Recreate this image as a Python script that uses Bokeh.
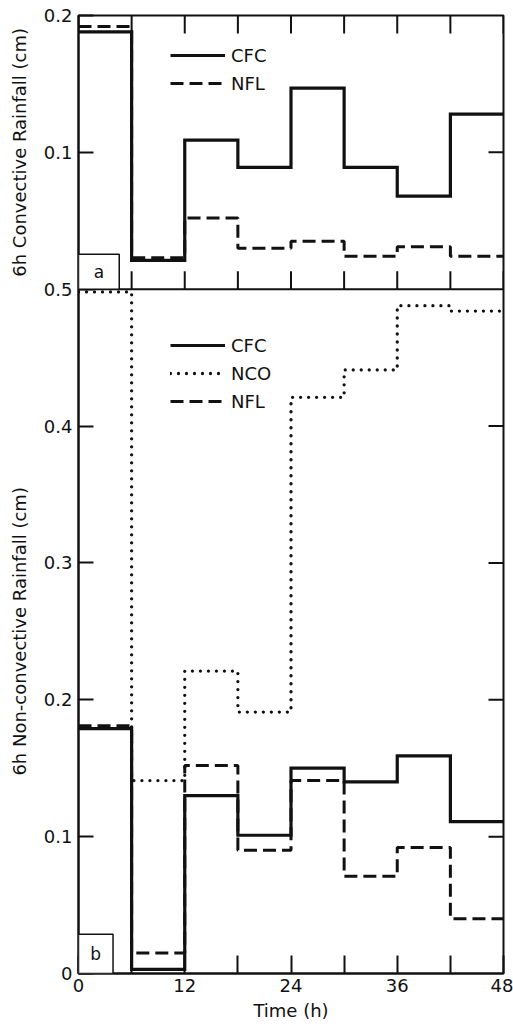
from bokeh.plotting import figure
from bokeh.layouts import row
from bokeh.models import (Range1d, LinearAxis, FixedTicker, Legend, LegendItem,
                          BoxAnnotation, Label, Span)
from bokeh.embed import file_html
from bokeh.resources import INLINE

# ---------------- data (6-hourly rainfall, cm) ----------------
hours = [0, 6, 12, 18, 24, 30, 36, 42, 48]

conv_cfc = [0.188, 0.021, 0.109, 0.089, 0.147, 0.089, 0.068, 0.128]
conv_nfl = [0.192, 0.023, 0.052, 0.030, 0.035, 0.024, 0.031, 0.024]

nonconv_cfc = [0.179, 0.003, 0.130, 0.101, 0.150, 0.140, 0.159, 0.111]
nonconv_nco = [0.498, 0.141, 0.221, 0.191, 0.421, 0.441, 0.488, 0.484]
nonconv_nfl = [0.181, 0.015, 0.152, 0.090, 0.141, 0.071, 0.092, 0.040]

x_major_ticks = [0, 12, 24, 36, 48]
x_minor_ticks = [6, 18, 30, 42]
x_all_ticks = [0, 6, 12, 18, 24, 30, 36, 42, 48]
conv_ticks = [0.1, 0.2]                       # panel a (0 .. 0.2)
nonconv_ticks = [0, 0.1, 0.2, 0.3, 0.4, 0.5]  # panel b (0 .. 0.5)
conv_max = 0.2
nonconv_max = 0.5

FONT = "DejaVu Sans"
INK = "#111111"

TITLE_W = 40      # strip on the left holding the two rotated y titles
TOP, BOTTOM = 15, 51


def stepped(vals):
    return list(vals) + [vals[-1]]


y_main = Range1d(0, nonconv_max + conv_max)       # panel b (bottom)
y_a = Range1d(-nonconv_max, conv_max)             # panel a stacked on top

# panel b uses the main y range, panel a is stacked on top of it (extra range "a")
p = figure(width=513 - TITLE_W, height=1024,
           x_range=Range1d(0, 48), y_range=y_main,
           output_backend="svg", toolbar_location=None,
           x_axis_location=None, y_axis_location=None,
           min_border_left=78 - TITLE_W, min_border_right=10,
           min_border_top=TOP, min_border_bottom=BOTTOM)
p.extra_y_ranges = {"a": y_a}
p.outline_line_color = INK
p.outline_line_width = 2
p.xgrid.visible = False
p.ygrid.visible = False

# ---- left axis: labels for both panels ----
a_positions = [nonconv_max + t for t in conv_ticks]
overrides = {0: "0"}
for pos, tv in zip(a_positions, conv_ticks):
    overrides[pos] = "%.1f" % tv
yax = LinearAxis(ticker=FixedTicker(ticks=nonconv_ticks + a_positions, minor_ticks=[]))
yax.major_tick_in = 15
yax.major_tick_out = 0
yax.minor_tick_in = 0
yax.minor_tick_out = 0
yax.axis_line_width = 2
yax.axis_line_color = INK
yax.major_tick_line_width = 2
yax.major_tick_line_color = INK
yax.major_label_text_font = FONT
yax.major_label_text_font_size = "18px"
yax.major_label_text_color = INK
yax.major_label_standoff = 6
yax.major_label_overrides = overrides
p.add_layout(yax, "left")

# ---- bottom axis ----
xax = LinearAxis(ticker=FixedTicker(ticks=x_major_ticks, minor_ticks=x_minor_ticks))
xax.major_tick_in = 18
xax.major_tick_out = 0
xax.minor_tick_in = 18
xax.minor_tick_out = 0
xax.axis_line_width = 2
xax.axis_line_color = INK
xax.major_tick_line_width = 2
xax.major_tick_line_color = INK
xax.minor_tick_line_width = 2
xax.minor_tick_line_color = INK
xax.major_label_text_font = FONT
xax.major_label_text_font_size = "18px"
xax.major_label_text_color = INK
xax.major_label_standoff = 5
xax.axis_label = "Time (h)"
xax.axis_label_text_font = FONT
xax.axis_label_text_font_size = "18px"
xax.axis_label_text_font_style = "normal"
xax.axis_label_text_color = INK
xax.axis_label_standoff = 5
p.add_layout(xax, "below")

# ---- unlabelled inward ticks (top, panel boundary, right side) ----
n = len(x_all_ticks)
p.ray(x=x_all_ticks, y=[conv_max] * n, y_range_name="a", length=18, length_units="screen",
      angle=-90, angle_units="deg", line_color=INK, line_width=2)
p.ray(x=x_all_ticks, y=[0] * n, y_range_name="a", length=18, length_units="screen",
      angle=90, angle_units="deg", line_color=INK, line_width=2)
p.ray(x=[48] * (len(nonconv_ticks) - 2), y=nonconv_ticks[1:-1], length=15,
      length_units="screen", angle=180, angle_units="deg", line_color=INK, line_width=2)
p.ray(x=[48] * (len(conv_ticks) - 1), y=conv_ticks[:-1], y_range_name="a", length=15,
      length_units="screen", angle=180, angle_units="deg", line_color=INK, line_width=2)

# panel boundary
p.add_layout(Span(location=0, dimension="width", y_range_name="a", line_color=INK,
                  line_width=2))

# ---- panel b: non-convective ----
rb_cfc = p.step(hours, stepped(nonconv_cfc), mode="after", line_color=INK,
                line_width=3.2, line_join="miter")
rb_nco = p.step(hours, stepped(nonconv_nco), mode="after", line_color=INK,
                line_width=3.3, line_dash="0 8", line_cap="round")
rb_nfl = p.step(hours, stepped(nonconv_nfl), mode="after", line_color=INK,
                line_width=3, line_dash="13 6")

# ---- panel a: convective ----
ra_cfc = p.step(hours, stepped(conv_cfc), mode="after", y_range_name="a", line_color=INK,
                line_width=3.2, line_join="miter")
ra_nfl = p.step(hours, stepped(conv_nfl), mode="after", y_range_name="a", line_color=INK,
                line_width=3, line_dash="13 6")


def make_legend(items, loc):
    return Legend(items=items, location=loc, glyph_width=55, glyph_height=24,
                  label_height=24, label_standoff=6, spacing=4, padding=0, margin=0,
                  border_line_alpha=0, background_fill_alpha=0,
                  label_text_font=FONT, label_text_font_size="18px",
                  label_text_color=INK)


p.add_layout(make_legend([LegendItem(label="CFC", renderers=[ra_cfc]),
                          LegendItem(label="NFL", renderers=[ra_nfl])], (92, 878)))
p.add_layout(make_legend([LegendItem(label="CFC", renderers=[rb_cfc]),
                          LegendItem(label="NCO", renderers=[rb_nco]),
                          LegendItem(label="NFL", renderers=[rb_nfl])], (92, 560)))

# ---- panel tags ----
p.add_layout(BoxAnnotation(left=0, right=4.6, bottom=0, top=0.0255, y_range_name="a",
                           fill_color="white", fill_alpha=1, line_color=INK,
                           line_alpha=1, line_width=1.5))
p.add_layout(Label(x=2.3, y=0.0128, y_range_name="a", text="a", text_align="center",
                   text_baseline="middle", text_font=FONT, text_font_size="17px",
                   text_color=INK))
p.add_layout(BoxAnnotation(left=0, right=3.9, bottom=0, top=0.0286,
                           fill_color="white", fill_alpha=1, line_color=INK,
                           line_alpha=1, line_width=1.5))
p.add_layout(Label(x=1.95, y=0.0143, text="b", text_align="center",
                   text_baseline="middle", text_font=FONT, text_font_size="17px",
                   text_color=INK))

# ---- strip with the y-axis titles (one per panel), sharing the y ranges ----
t = figure(width=TITLE_W, height=1024, x_range=Range1d(0, 1), y_range=y_main,
           output_backend="svg", toolbar_location=None,
           x_axis_location=None, y_axis_location=None,
           min_border_left=0, min_border_right=0,
           min_border_top=TOP, min_border_bottom=BOTTOM)
t.extra_y_ranges = {"a": y_a}
t.outline_line_color = None
t.xgrid.visible = False
t.ygrid.visible = False
t.add_layout(Label(x=19, y=conv_max / 2, y_range_name="a", x_units="screen",
                   text="6h Convective Rainfall (cm)", angle=90, angle_units="deg",
                   text_align="center", text_baseline="middle", text_font=FONT,
                   text_font_size="18px", text_color=INK))
t.add_layout(Label(x=19, y=nonconv_max / 2, x_units="screen",
                   text="6h Non-convective Rainfall (cm)", angle=90, angle_units="deg",
                   text_align="center", text_baseline="middle", text_font=FONT,
                   text_font_size="18px", text_color=INK))

open("out.html", "w").write(file_html(row(t, p), INLINE))
